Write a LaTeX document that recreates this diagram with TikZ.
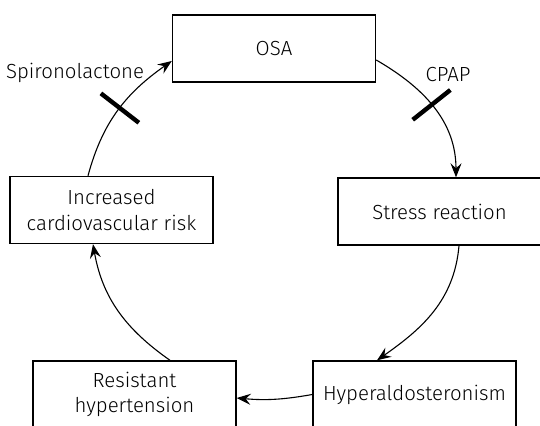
\documentclass[tikz,border=0pt]{standalone}
\usepackage{fontspec}
\setmainfont{Fira Sans Light}
\usetikzlibrary{arrows.meta}

\begin{document}
\begin{tikzpicture}[x=0.5pt, y=-0.5pt, font=\fontsize{10.2}{12.7}\selectfont,
	box/.style={draw, line width=0.7pt, minimum width=101.5pt, minimum height=33.5pt, align=center, inner sep=0pt},
	link/.style={-{Stealth[length=7pt, width=5.5pt, inset=2.5pt]}, line width=0.55pt},
	blocker/.style={fill, sloped, inner sep=0pt, minimum width=2.2pt, minimum height=24pt}]
	 % Fix the frame, the bottom boxes are cut off
	 \useasboundingbox (0,0) rectangle (540,426);
	 \clip (0,0) rectangle (540,426);

	 % The boxes of the cycle
	 \node[box] (osa) at (274,48.5) {OSA};
	 \node[box] (stress) at (439.5,211.5) {Stress reaction};
	 \node[box] (hyper) at (414.5,394.5) {Hyperaldosteronism};
	 \node[box] (resist) at (134.5,394.5) {Resistant\\hypertension};
	 \node[box] (risk) at (111.5,210) {Increased\\cardiovascular risk};

	 % Treatments
	 \node (spiro) at (75,73) {Spironolactone};
	 \node (cpap) at (448,75) {CPAP};

	 % Curved arrows round the cycle
	 \draw[link] ([yshift=-5.75pt]osa.east) to[out=-30, in=90] node[blocker, pos=0.47] {} ([xshift=8.25pt]stress.north);
	 \draw[link] ([xshift=9.75pt]stress.south) to[out=-95, in=35] ([xshift=-18.75pt]hyper.north);
	 \draw[link] (hyper.west) to[out=190, in=-5] ([yshift=-1.75pt]resist.east);
	 \draw[link] ([xshift=17.75pt]resist.north) to[out=145, in=-80] ([xshift=-9.25pt]risk.south);
	 \draw[link] ([xshift=-11.75pt]risk.north) to[out=75, in=215] node[blocker, pos=0.52] {} ([yshift=-6.25pt]osa.west);
\end{tikzpicture}
\end{document}
